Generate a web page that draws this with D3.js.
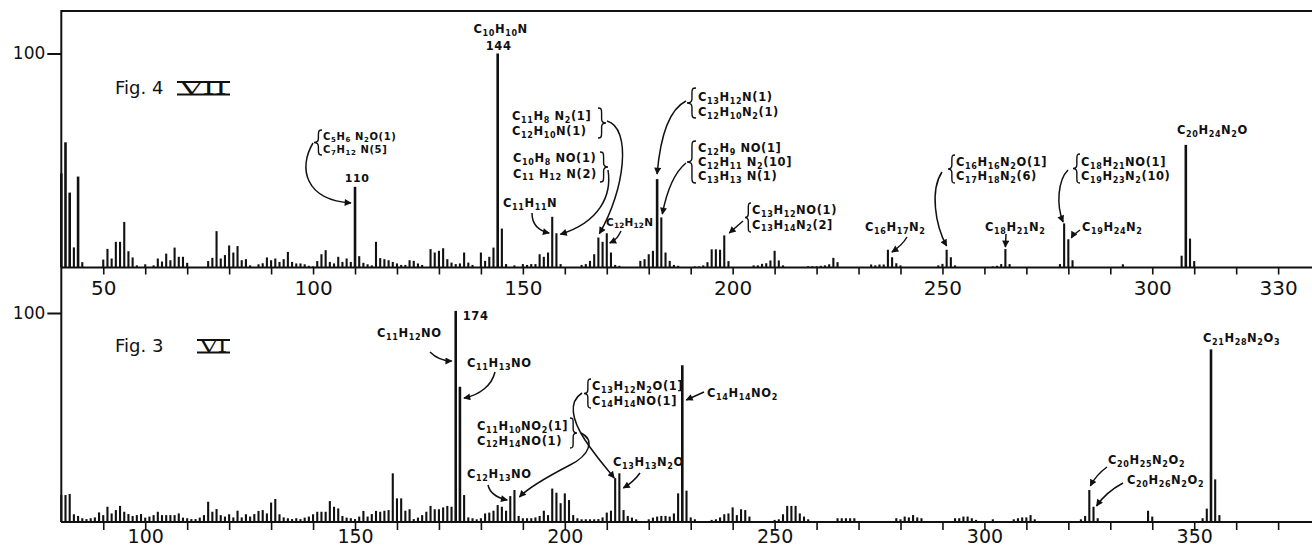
<!DOCTYPE html>
<html><head><meta charset="utf-8">
<script src="https://cdn.jsdelivr.net/npm/d3@7"></script>
<style>
body{margin:0;background:#fff;}
svg{display:block;background:#fff;}
.fm{font-family:"DejaVu Sans",sans-serif;font-weight:bold;font-size:11.5px;letter-spacing:0.6px;fill:#111;}
.ax text{font-family:"DejaVu Sans",sans-serif;font-size:20px;fill:#111;}
.axb text{font-size:19px;}
.yax text{font-family:"DejaVu Sans",sans-serif;font-size:17px;fill:#111;}
</style>
</head><body><svg id="c" width="1312" height="550"></svg>
<script>
// ---------------- DATA ----------------
// Fig. 4 (VII): m/e values and relative intensities (%)
const topMz  = [40,41,42,43,44,45,50,51,52,53,54,55,56,57,58,60,62,63,64,65,66,67,68,69,70,75,76,77,78,79,80,81,82,83,84,85,87,88,89,90,91,92,93,94,95,96,97,98,99,100,101,102,103,104,105,106,107,108,109,110,111,112,113,114,115,116,117,118,119,120,121,122,123,124,125,126,128,129,130,131,132,133,134,135,136,137,138,140,141,142,143,144,145,146,148,150,151,152,153,154,155,156,157,158,159,164,165,166,167,168,169,170,171,172,173,178,179,180,181,182,183,184,185,186,187,191,192,193,194,195,196,197,198,199,205,206,207,208,209,210,211,212,218,219,220,221,222,223,224,225,233,234,235,236,237,238,239,240,249,250,251,252,253,262,263,264,265,266,278,279,280,281,293,307,308,309,310];
const topInt = [44,58.5,35,9.4,42.5,2.5,3.7,8.7,4.2,12,12,21.3,7.6,4.7,1,1.5,1,4.2,2.8,6.5,3.4,9.3,5,5,2.2,3,4.5,17,4.2,5.8,10.3,7,10,3.4,3.9,1,1.5,2,4.7,3.4,4.2,2.6,3.9,7.3,2.6,1.9,1.9,1.5,0.8,0.5,3,6.2,8.1,2.6,1.9,5,2.6,4.2,2.6,37.7,5.3,2.2,1.5,1,12,4.4,3.9,3.4,2.6,1.9,1.2,1.2,3.4,3.1,1.9,1.2,8.6,7,7.8,9,3.9,2.3,1.6,1.9,7,2.3,1.2,7,3.1,5,9.3,100,18.2,1.6,1,1.6,1.2,1.6,1.6,6.2,5,7,23.7,16,1.6,1.2,1.6,3.1,6.2,14,12,16,7,1.2,0.8,3.1,3.9,6.2,7.8,41.3,23.4,7,3.1,1.2,0.8,0.5,0.5,1,2.5,8.5,8.5,8.3,15,3,1,1,1.7,2,3.3,7.8,3.3,1,0.6,0.6,0.6,0.8,1,1.5,4.5,2.5,1.4,1,1.4,1.4,8.3,4.8,2,1,1,1.7,8.3,4.8,1,0.5,0.8,1.6,8.6,1.6,1.6,20.6,13.2,3.4,1.5,5.5,57.3,13.5,3];

// Fig. 3 (VI)
const botMz  = [80,81,82,83,84,85,86,87,88,89,90,91,92,93,94,95,96,97,98,99,100,101,102,103,104,105,106,107,108,109,110,111,112,113,114,115,116,117,118,119,120,121,122,123,124,125,126,127,128,129,130,131,132,133,134,135,136,137,138,139,140,141,142,143,144,145,146,147,148,149,150,151,152,153,154,155,156,157,158,159,160,161,162,163,164,165,166,167,168,169,170,171,172,173,174,175,176,177,178,179,180,181,182,183,184,185,186,187,188,189,190,191,192,193,194,195,196,197,198,199,200,201,202,203,204,205,206,207,208,209,210,211,212,213,214,215,216,217,220,221,222,223,224,225,226,227,228,229,230,231,235,236,237,238,239,240,241,242,243,244,250,251,252,253,254,255,256,257,258,265,266,267,268,269,279,280,281,282,283,284,285,293,294,295,296,297,298,302,307,308,309,310,311,312,323,324,325,326,327,339,340,352,353,354,355,356];
const botInt = [12.9,12.9,13.4,3.7,2.9,1.8,1.4,1.8,2.2,4.6,3.3,7.3,4.1,5.7,7.7,4.9,3.8,2.9,3.3,3.8,2.1,2.6,3.3,4.9,3.3,3.3,3.3,3.3,4.1,2.1,1.8,1.4,1.4,2.1,3.3,9.7,4.9,6.2,3.3,2.6,3.7,2.2,5.4,2.2,3.7,2.6,3.8,5.3,5.7,4.1,9.3,11,3.7,2.2,1.8,1.4,1.8,1.4,2.1,2.6,3.7,4.9,4.9,4.9,10,7.3,6.5,2.9,2.1,1.8,1.4,2.6,5.3,2.6,3.8,5.3,4.9,5.4,5.7,23.3,11.3,11.3,5.4,6.1,1.4,2.1,3.3,4.9,7.7,6.1,6.1,7,7.7,7.3,101,64.7,12.9,2.2,1.8,1.3,1.8,4.1,4.5,5.4,8.1,7.3,5.4,12.4,15.3,2.9,1.8,1.8,1.8,2.2,2.9,5.4,3.3,16,14,9,13.7,10.5,3.3,1.8,1.3,1.3,1.3,1.3,1.4,2.2,4.5,5.4,21,23.3,5.7,2.9,2.1,1.3,1.3,2.1,2.6,2.9,2.9,2.6,4.1,13.7,75,15,2.2,1.3,1,1.3,2.2,3.7,4.1,7,3.3,6.1,5.7,2.6,1,1.3,3.7,7.7,7.7,7.7,4.1,2.6,1.3,1.8,1.8,1.8,1.8,1.8,1.8,1.3,2.6,2.2,3.3,2.2,1.8,1.8,1.8,2.6,2.6,1.8,1,1.3,1.3,1.8,2.2,2.2,3.3,1.3,1.3,2.9,15.3,7.3,1.8,5.4,2.6,1.8,6.4,82.6,20.4,3.3];

const topTicks = [50,60,70,80,90,100,110,120,130,140,150,160,170,180,190,200,210,220,230,240,250,260,270,280,290,300,310,320,330];
const topTickLabels = [50,100,150,200,250,300,330];
const botTicks = [90,100,110,120,130,140,150,160,170,180,190,200,210,220,230,240,250,260,270,280,290,300,310,320,330,340,350,360,370];
const botTickLabels = [100,150,200,250,300,350];
const yTickValues = [100];

// ---------------- LAYOUT ----------------
const svg = d3.select('#c');
const W = 1312;
const xTop = d3.scaleLinear().domain([40, 338]).range([61.3, 1311.7]);
const xBot = d3.scaleLinear().domain([80, 378]).range([61.3, 1311.7]);
const yTop = d3.scaleLinear().domain([0, 100]).range([267.5, 53.5]);
const yBot = d3.scaleLinear().domain([0, 100]).range([522, 313]);

const defs = svg.append('defs');
defs.append('marker').attr('id','ah').attr('viewBox','0 0 10 10').attr('refX',9).attr('refY',5)
  .attr('markerWidth',9).attr('markerHeight',7).attr('markerUnits','userSpaceOnUse').attr('orient','auto')
  .append('path').attr('d','M0,0 L10,5 L0,10 z').attr('fill','#111');

// frame / axes lines
svg.append('line').attr('x1',61).attr('x2',W).attr('y1',11).attr('y2',11).attr('stroke','#111').attr('stroke-width',2);
svg.append('line').attr('x1',61.3).attr('x2',61.3).attr('y1',10).attr('y2',522).attr('stroke','#111').attr('stroke-width',2);
svg.append('line').attr('x1',61).attr('x2',W).attr('y1',yTop(0)).attr('y2',yTop(0)).attr('stroke','#111').attr('stroke-width',2);
svg.append('line').attr('x1',61).attr('x2',W).attr('y1',yBot(0)).attr('y2',yBot(0)).attr('stroke','#111').attr('stroke-width',2);

function drawAxis(x, y, ticks, labels, tsize, pad, cls) {
  const ax = d3.axisBottom(x).tickValues(ticks).tickSize(tsize).tickSizeOuter(0).tickPadding(pad)
    .tickFormat(d => labels.includes(d) ? d : '');
  const g = svg.append('g').attr('class','ax ' + cls).attr('transform',`translate(0,${y(0)})`).call(ax);
  g.select('.domain').remove();
  g.selectAll('.tick line').attr('stroke','#111').attr('stroke-width',1.6);
}
drawAxis(xTop, yTop, topTicks, topTickLabels, 7, 6, 'axt');
drawAxis(xBot, yBot, botTicks, botTickLabels, 8, 0, 'axb');

function drawY(y) {
  const g = svg.append('g').attr('class','yax').attr('transform','translate(61.3,0)')
    .call(d3.axisLeft(y).tickValues(yTickValues).tickSize(14).tickPadding(2));
  g.select('.domain').remove();
  g.selectAll('.tick line').attr('stroke','#111').attr('stroke-width',2);
}
drawY(yTop); drawY(yBot);

function drawBars(x, y, mz, inten) {
  svg.append('g').selectAll('line').data(d3.zip(mz, inten)).join('line')
    .attr('x1', d => x(d[0])).attr('x2', d => x(d[0]))
    .attr('y1', y(0)).attr('y2', d => y(d[1]))
    .attr('stroke','#111').attr('stroke-width', d => d[1] > 30 ? 2.6 : 2.1);
}
drawBars(xTop, yTop, topMz, topInt);
drawBars(xBot, yBot, botMz, botInt);

// ---------------- ANNOTATIONS ----------------
const ann = svg.append('g');
function formula(str, x, y, anchor, size) {
  size = size || 11.5;
  const t = ann.append('text').attr('class','fm').attr('x',x).attr('y',y)
    .attr('text-anchor', anchor || 'start').style('font-size', size + 'px');
  const toks = []; const re = /_\{([^}]*)\}/g; let last = 0, m;
  while ((m = re.exec(str))) {
    if (m.index > last) toks.push({t: str.slice(last, m.index), s: false});
    toks.push({t: m[1], s: true}); last = re.lastIndex;
  }
  if (last < str.length) toks.push({t: str.slice(last), s: false});
  let cur = 0; const SH = size * 0.22;
  toks.forEach(k => {
    const target = k.s ? SH : 0;
    const sp = t.append('tspan').attr('dy', target - cur).text(k.t);
    if (k.s) sp.style('font-size', (size * 0.7) + 'px');
    cur = target;
  });
  return t;
}
function lines(arr, x, y0, dy, size) { arr.forEach((s, i) => formula(s, x, y0 + i * dy, 'start', size)); }
function brace(xf, y0, y1, w) {
  // w>0: "{" (tip at xf-w); w<0: "}" (tip at xf-w)
  const ym = (y0 + y1) / 2, a = xf - w * 0.45;
  const d = `M${xf},${y0} C${xf - w*0.4},${y0} ${a},${y0+1} ${a},${y0+5} L${a},${ym-4} C${a},${ym-1} ${xf - w*0.7},${ym} ${xf - w},${ym} C${xf - w*0.7},${ym} ${a},${ym+1} ${a},${ym+4} L${a},${y1-5} C${a},${y1-1} ${xf - w*0.4},${y1} ${xf},${y1}`;
  ann.append('path').attr('d', d).attr('fill','none').attr('stroke','#111').attr('stroke-width',1.4);
}
function arrow(pts) {
  let d = `M${pts[0][0]},${pts[0][1]}`;
  if (pts.length === 2) d += ` L${pts[1][0]},${pts[1][1]}`;
  else for (let i = 1; i < pts.length; i += 3) d += ` C${pts[i]} ${pts[i+1]} ${pts[i+2]}`;
  ann.append('path').attr('d', d).attr('fill','none').attr('stroke','#111').attr('stroke-width',1.5).attr('marker-end','url(#ah)');
}
function figLabel(fig, roman, x, y, rx, rw) {
  ann.append('text').attr('x', x).attr('y', y).style('font-family','"DejaVu Sans",sans-serif')
    .style('font-size','18px').style('fill','#111').text(fig);
  ann.append('text').attr('x', rx + 3).attr('y', y).attr('textLength', rw - 6).attr('lengthAdjust','spacingAndGlyphs')
    .style('font-family','"DejaVu Serif",serif').style('font-size','16px').style('fill','#111').text(roman);
  ann.append('line').attr('x1', rx).attr('x2', rx + rw).attr('y1', y - 12).attr('y2', y - 12).attr('stroke','#111').attr('stroke-width',2);
  ann.append('line').attr('x1', rx).attr('x2', rx + rw).attr('y1', y + 0.5).attr('y2', y + 0.5).attr('stroke','#111').attr('stroke-width',2);
}

// Fig. 4
figLabel('Fig. 4', 'VII', 115, 94, 177, 53);
formula('C_{10}H_{10}N', xTop(144) + 3, 33, 'middle');
formula('144', xTop(144) + 1, 50, 'middle');
formula('110', xTop(110) + 2, 182, 'middle', 11);
lines(['C_{5}H_{6} N_{2}O(1)', 'C_{7}H_{12} N(5]'], 323, 140, 12.5, 10); brace(322, 130, 155, 8);
arrow([[313,143],[298,168],[305,200],[xTop(110)-4, 203]]);

lines(['C_{11}H_{8} N_{2}(1]', 'C_{12}H_{10}N(1)'], 512, 120, 15); brace(598, 108, 138, -8);
arrow([[607,121],[632,128],[625,190],[xTop(168)+1, yTop(14)-4]]);
lines(['C_{10}H_{8} NO(1)', 'C_{11} H_{12} N(2)'], 513, 162, 15.5); brace(600, 152, 182, -8);
arrow([[608,170],[612,195],[600,222],[xTop(158)+4, yTop(16)+1]]);
formula('C_{11}H_{11}N', 503, 207);
arrow([[532,213],[532,225],[540,231],[xTop(157)-3, 233]]);
formula('C_{12}H_{12}N', 606, 226, 'start', 10.5).style('letter-spacing','0.2px');
arrow([[621,231],[618,237],[616,240],[xTop(170)+3, 243]]);
lines(['C_{13}H_{12}N(1)', 'C_{12}H_{10}N_{2}(1)'], 698, 101, 15); brace(696, 88, 118, 9);
arrow([[686,101],[668,110],[660,140],[xTop(182), 174]]);
lines(['C_{12}H_{9} NO(1]', 'C_{12}H_{11} N_{2}(10]', 'C_{13}H_{13} N(1)'], 698, 152, 14); brace(696, 141, 183, 9);
arrow([[686,163],[675,172],[667,190],[xTop(183)+1, 214]]);
lines(['C_{13}H_{12}NO(1)', 'C_{13}H_{14}N_{2}(2]'], 752, 214, 14.5); brace(751, 203, 232, 6);
arrow([[743,221],[xTop(198)+5, 233]]);
formula('C_{16}H_{17}N_{2}', 865, 231);
arrow([[907,237],[903,244],[898,248],[xTop(237)+4, 252]]);
lines(['C_{16}H_{16}N_{2}O(1]', 'C_{17}H_{18}N_{2}(6)'], 956, 166, 14); brace(955, 155, 183, 7);
arrow([[942,172],[930,190],[935,225],[xTop(251), 246]]);
formula('C_{18}H_{21}N_{2}', 985, 231);
arrow([[1006,234],[xTop(265), 247]]);
lines(['C_{18}H_{21}NO(1]', 'C_{19}H_{23}N_{2}(10)'], 1081, 166, 14); brace(1080, 154, 183, 7);
arrow([[1068,170],[1058,180],[1056,205],[xTop(279)-1, 222]]);
formula('C_{19}H_{24}N_{2}', 1082, 231);
arrow([[1080,230],[1076,233],[1073,235],[xTop(280)+3, 238]]);
formula('C_{20}H_{24}N_{2}O', 1177, 134);

// Fig. 3
figLabel('Fig. 3', 'VI', 115, 352, 197, 33);
formula('C_{11}H_{12}NO', 377, 337);
formula('174', xBot(174) + 7, 320);
arrow([[430,352],[436,358],[444,361],[xBot(174)-4, 361]]);
formula('C_{11}H_{13}NO', 467, 367);
arrow([[495,372],[492,385],[480,395],[xBot(175)+4, 398]]);
lines(['C_{11}H_{10}NO_{2}(1]', 'C_{12}H_{14}NO(1)'], 477, 430, 14.5); brace(570, 418, 448, -7);
arrow([[581,433],[595,440],[590,455],[570,465],[545,478],[528,488],[xBot(188)+5, 497]]);
formula('C_{12}H_{13}NO', 467, 478);
arrow([[488,485],[490,494],[498,498],[xBot(187)-3, 500]]);
lines(['C_{13}H_{12}N_{2}O(1]', 'C_{14}H_{14}NO(1]'], 592, 390, 14.5); brace(591, 379, 408, 7);
arrow([[582,393],[568,402],[572,420],[585,440],[597,458],[608,470],[xBot(212)-1, 478]]);
formula('C_{13}H_{13}N_{2}O', 613, 466);
arrow([[640,473],[635,480],[630,484],[xBot(213)+4, 488]]);
formula('C_{14}H_{14}NO_{2}', 707, 397);
arrow([[704,392],[xBot(228)+4, 400]]);
formula('C_{20}H_{25}N_{2}O_{2}', 1108, 464);
arrow([[1107,467],[1100,472],[1094,479],[xBot(325)+1, 486]]);
formula('C_{20}H_{26}N_{2}O_{2}', 1127, 484);
arrow([[1123,483],[1110,490],[1102,498],[xBot(326)+3, 506]]);
formula('C_{21}H_{28}N_{2}O_{3}', 1203, 342);
</script>
</body></html>
